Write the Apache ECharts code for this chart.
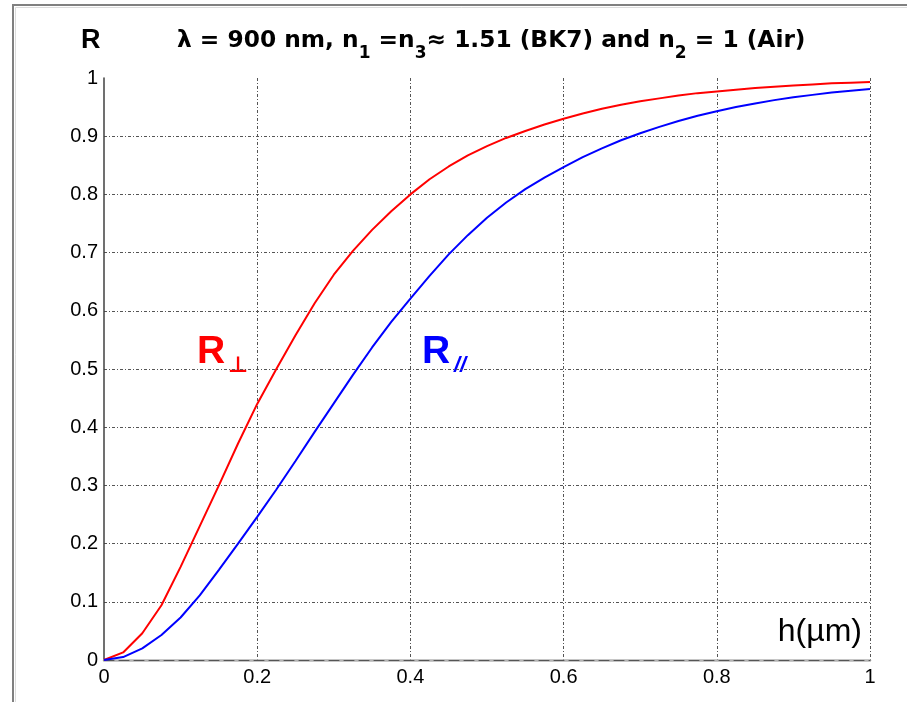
<!DOCTYPE html>
<html>
<head>
<meta charset="utf-8">
<script src="https://cdn.jsdelivr.net/npm/echarts@6/dist/echarts.min.js"></script>
<style>
  html, body { margin: 0; padding: 0; background: #ffffff; }
  #chart { width: 907px; height: 702px; }
</style>
</head>
<body>
<div id="chart"></div>
<script>
// Gap thickness h (µm) between the two BK7 prisms
const thickness = [
  0, 0.025, 0.05, 0.075, 0.1, 0.125, 0.15, 0.175, 0.2, 0.225,
  0.25, 0.275, 0.3, 0.325, 0.35, 0.375, 0.4, 0.425, 0.45, 0.475,
  0.5, 0.525, 0.55, 0.575, 0.6, 0.625, 0.65, 0.675, 0.7, 0.725,
  0.75, 0.775, 0.8, 0.825, 0.85, 0.875, 0.9, 0.925, 0.95, 0.975, 1.0
];

// Reflectance, s-polarisation (R⊥)
const rPerp = [
  0, 0.013, 0.046, 0.094, 0.16, 0.23, 0.3, 0.372, 0.44, 0.5,
  0.558, 0.613, 0.662, 0.703, 0.739, 0.771, 0.8, 0.826, 0.848, 0.867,
  0.883, 0.897, 0.909, 0.92, 0.93, 0.939, 0.947, 0.954, 0.96, 0.965,
  0.97, 0.974, 0.977, 0.98, 0.983, 0.985, 0.987, 0.989, 0.991, 0.992, 0.993
];

// Reflectance, p-polarisation (R//)
const rPar = [
  0, 0.005, 0.02, 0.043, 0.073, 0.111, 0.155, 0.2, 0.246, 0.293,
  0.342, 0.392, 0.441, 0.49, 0.537, 0.581, 0.621, 0.66, 0.697, 0.73,
  0.76, 0.786, 0.809, 0.829, 0.847, 0.864, 0.879, 0.893, 0.905, 0.916,
  0.926, 0.935, 0.943, 0.95, 0.956, 0.962, 0.967, 0.971, 0.975, 0.978, 0.981
];

const xTickLabels = ['0', '0.2', '0.4', '0.6', '0.8', '1'];
const yTickLabels = ['0', '0.1', '0.2', '0.3', '0.4', '0.5', '0.6', '0.7', '0.8', '0.9', '1'];

const FONT = '"Liberation Sans", Arial, Helvetica, sans-serif';
const TITLE_FONT = '"DejaVu Sans", "Liberation Sans", sans-serif';
const gridDash = [3, 2, 1, 2];

const chart = echarts.init(document.getElementById('chart'), null, { renderer: 'canvas' });

chart.setOption({
  backgroundColor: '#ffffff',
  animation: false,
  grid: { left: 104, right: 37, top: 78, bottom: 42, containLabel: false },
  xAxis: [{
    type: 'value', min: 0, max: 1, interval: 0.2,
    axisLine: { show: true, onZero: false, lineStyle: { color: '#b4b4b4', width: 2.5 } },
    axisTick: { show: false },
    axisLabel: {
      margin: 7, fontSize: 20, fontFamily: FONT, color: '#000',
      formatter: (v) => xTickLabels[Math.round(v / 0.2)]
    },
    splitLine: { show: true, showMinLine: false, lineStyle: { color: '#555', width: 1, type: gridDash } }
  }, {
    type: 'value', min: 0, max: 1, position: 'top',
    axisLine: { show: true, lineStyle: { color: '#555', width: 1, type: [10, 5] } },
    axisTick: { show: false }, axisLabel: { show: false }, splitLine: { show: false }
  }],
  yAxis: {
    type: 'value', min: 0, max: 1, interval: 0.1,
    axisLine: { show: true, onZero: false, lineStyle: { color: '#404040', width: 1.5 } },
    axisTick: { show: false },
    axisLabel: {
      margin: 6, fontSize: 20, fontFamily: FONT, color: '#000',
      formatter: (v) => yTickLabels[Math.round(v * 10)]
    },
    splitLine: { show: true, showMinLine: false, showMaxLine: false, lineStyle: { color: '#555', width: 1, type: gridDash } }
  },
  series: [
    {
      name: 'R⊥', type: 'line', showSymbol: false, smooth: false,
      lineStyle: { color: '#ff0000', width: 2 },
      data: thickness.map((h, i) => [h, rPerp[i]]),
      z: 3
    },
    {
      name: 'R//', type: 'line', showSymbol: false, smooth: false,
      lineStyle: { color: '#0000ff', width: 2 },
      data: thickness.map((h, i) => [h, rPar[i]]),
      z: 3
    }
  ],
  graphic: [
    // figure frame
    { type: 'polyline', silent: true, shape: { points: [[13, 702], [13, 5], [907, 5]] },
      style: { stroke: '#808080', lineWidth: 2, fill: null } },
    { type: 'polyline', silent: true, shape: { points: [[15.5, 702], [15.5, 7.5], [907, 7.5]] },
      style: { stroke: '#dcdcdc', lineWidth: 1, fill: null } },
    // axis name R
    { type: 'text', x: 81, y: 41, style: {
      text: 'R', fontSize: 27, fontWeight: 'bold', fontFamily: FONT, fill: '#000',
      align: 'left', verticalAlign: 'middle' } },
    // title
    { type: 'text', x: 177, y: 41, style: {
      text: 'λ = 900 nm, n{s|1} =n{s|3}≈ 1.51 (BK7) and n{s|2} = 1 (Air)',
      fontSize: 23.3, fontWeight: 'bold', fontFamily: TITLE_FONT, fill: '#000',
      align: 'left', verticalAlign: 'middle',
      rich: { s: { fontSize: 17, fontWeight: 'bold', fontFamily: TITLE_FONT, fill: '#000', padding: [26, 0, 0, 0] } }
    } },
    // x axis name
    { type: 'text', x: 862, y: 632, style: {
      text: 'h(µm)', fontSize: 32, fontFamily: FONT, fill: '#000',
      align: 'right', verticalAlign: 'middle' } },
    // curve labels
    { type: 'text', x: 197, y: 352, style: {
      text: 'R', fontSize: 39, fontWeight: 'bold', fontFamily: FONT, fill: '#ff0000',
      align: 'left', verticalAlign: 'middle' } },
    { type: 'text', x: 238, y: 366, style: {
      text: '⊥', fontSize: 22, fontWeight: 'bold', fontFamily: TITLE_FONT, fill: '#ff0000',
      align: 'center', verticalAlign: 'middle' } },
    { type: 'text', x: 422, y: 352, style: {
      text: 'R', fontSize: 39, fontWeight: 'bold', fontFamily: FONT, fill: '#0000ff',
      align: 'left', verticalAlign: 'middle' } },
    { type: 'text', x: 460, y: 366, style: {
      text: '//', fontSize: 22, fontWeight: 'bold', fontStyle: 'italic', fontFamily: FONT, fill: '#0000ff',
      align: 'center', verticalAlign: 'middle' } }
  ]
});
</script>
</body>
</html>
